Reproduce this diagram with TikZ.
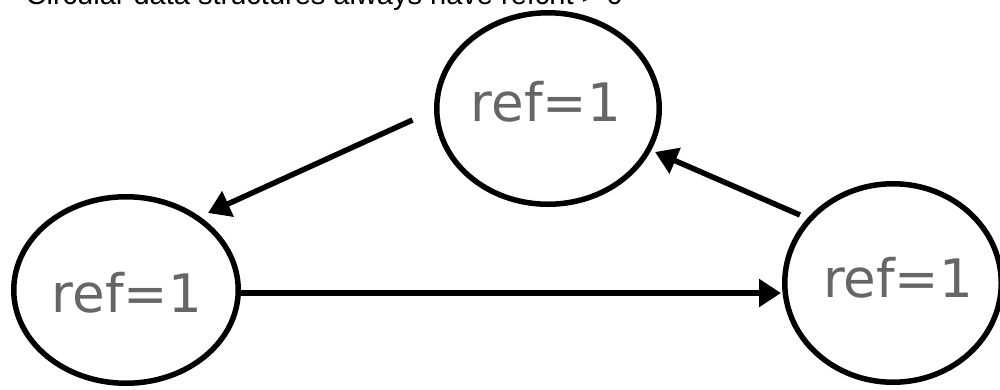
\documentclass[tikz,border=0pt]{standalone}
\usepackage{fontspec}
\setmainfont{Liberation Sans}
\newfontfamily\reffont{DejaVu Sans}
\usetikzlibrary{shapes.geometric,arrows.meta,calc}
\definecolor{reftext}{HTML}{666666}
\tikzset{
  obj/.style={ellipse, draw=black, line width=5.5pt, inner sep=0pt, fill=white},
  lbl/.style={text=reftext, font=\reffont\fontsize{53}{60}\selectfont, inner sep=0pt},
  arr/.style={line width=5.5pt, -{Triangle[length=22pt,width=27pt]}},
  title/.style={font=\fontsize{29}{34}\selectfont, inner sep=0pt, anchor=base west}
}
\begin{document}
\begin{tikzpicture}[x=1pt,y=-1pt]
\useasboundingbox (0,0) rectangle (1000,389);
\clip (0,0) rectangle (1000,389);
\fill[white] (0,0) rectangle (1000,389);
\node[title] (ttl) at (25.5,4) {Circular data structures always have refcnt > 0};
\node[obj, minimum width=222.5pt, minimum height=191.5pt,
      label={[lbl,xshift=-2pt,yshift=6.5pt]center:ref=1}] (top) at (548,108.5) {};
\node[obj, minimum width=224.5pt, minimum height=186.5pt,
      label={[lbl,xshift=1pt,yshift=-3pt]center:ref=1}] (left) at (126,290) {};
\node[obj, minimum width=216.5pt, minimum height=198.5pt,
      label={[lbl,xshift=5pt,yshift=5pt]center:ref=1}] (right) at (893,283) {};
\draw[arr] ($(left.east)+(0,3)$) -- ($(right.west)+(-1,10)$);
\draw[arr] ($(top.west)+(-21.5,11.5)$) -- ($(left.center)+(82,-77)$);
\draw[arr] ($(right.center)+(-93,-68)$) -- ($(top.center)+(107,43.5)$);
\end{tikzpicture}
\end{document}
